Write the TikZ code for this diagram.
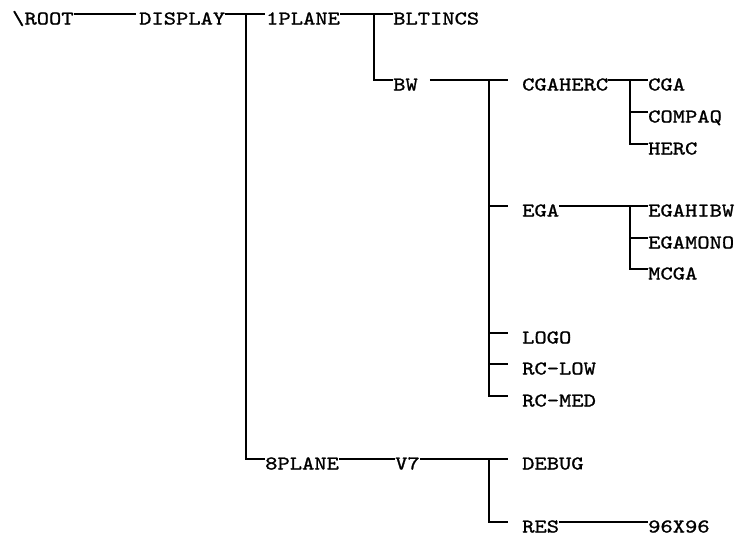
\documentclass[tikz,border=0pt]{standalone}
\usepackage{fontspec}
\newfontfamily\tw{lmmono10-regular.otf}[FakeStretch=1.2,FakeBold=1.2]
\begin{document}
\begin{tikzpicture}[x=1pt,y=-1pt,
  lbl/.style={anchor=base west,inner sep=0pt,text height=10.4pt,text depth=0pt,
    font=\tw\fontsize{19.5}{20}\selectfont},
  conn/.style={line width=1.4pt,black}]
\useasboundingbox (0,0) rectangle (742,536);
% columns of vertical bars
\coordinate (vA) at (246,0);
\coordinate (vB) at (374,0);
\coordinate (vC) at (489,0);
\coordinate (vD) at (630,0);
% nodes
\node[lbl] (root) at (12,24.5) {\textbackslash ROOT};
\node[lbl] (display) at (139,24.5) {DISPLAY};
\node[lbl] (p1) at (266,24.5) {1PLANE};
\node[lbl] (bltincs) at (393,24.5) {BLTINCS};
\node[lbl] (bw) at (393,90.5) {BW};
\node[lbl] (cgaherc) at (522,90.5) {CGAHERC};
\node[lbl] (cga) at (648,90.5) {CGA};
\node[lbl] (compaq) at (648,122.5) {COMPAQ};
\node[lbl] (herc) at (648,154.5) {HERC};
\node[lbl] (ega) at (522,216.5) {EGA};
\node[lbl] (egahibw) at (648,216.5) {EGAHIBW};
\node[lbl] (egamono) at (648,248.5) {EGAMONO};
\node[lbl] (mcga) at (648,279.5) {MCGA};
\node[lbl] (logo) at (522,343.5) {LOGO};
\node[lbl] (rclow) at (522,374.5) {RC-LOW};
\node[lbl] (rcmed) at (522,406.5) {RC-MED};
\node[lbl] (p8) at (265,469.5) {8PLANE};
\node[lbl] (v7) at (395,469.5) {V7};
\node[lbl] (debug) at (522,469.5) {DEBUG};
\node[lbl] (res) at (522,532.5) {RES};
\node[lbl] (r96) at (648,532.5) {96X96};
% connectors
\draw[conn] (root.north east) -- ([xshift=-3pt]display.north west);
\draw[conn] (display.north east) -- ([xshift=-1pt]p1.north west);
\draw[conn] (vA |- display.north) |- (p8.north west);
\draw[conn] (p1.north east) -- (bltincs.north west);
\draw[conn] (vB |- p1.north) |- (bw.north west);
\draw[conn] ([xshift=12pt]bw.north east) -- ([xshift=-14pt]cgaherc.north west);
\draw[conn] (vC |- bw.north) |- ([xshift=-14pt]rcmed.north west);
\draw[conn] (vC |- ega.north) -- ([xshift=-14pt]ega.north west);
\draw[conn] (vC |- logo.north) -- ([xshift=-14pt]logo.north west);
\draw[conn] (vC |- rclow.north) -- ([xshift=-14pt]rclow.north west);
\draw[conn] (cgaherc.north east) -- (cga.north west);
\draw[conn] (vD |- cgaherc.north) |- (herc.north west);
\draw[conn] (vD |- compaq.north) -- (compaq.north west);
\draw[conn] (ega.north east) -- (egahibw.north west);
\draw[conn] (vD |- ega.north) |- (mcga.north west);
\draw[conn] (vD |- egamono.north) -- (egamono.north west);
\draw[conn] (p8.north east) -- (v7.north west);
\draw[conn] (v7.north east) -- ([xshift=-14pt]debug.north west);
\draw[conn] (vC |- v7.north) |- ([xshift=-14pt]res.north west);
\draw[conn] (res.north east) -- (r96.north west);
\end{tikzpicture}
\end{document}
